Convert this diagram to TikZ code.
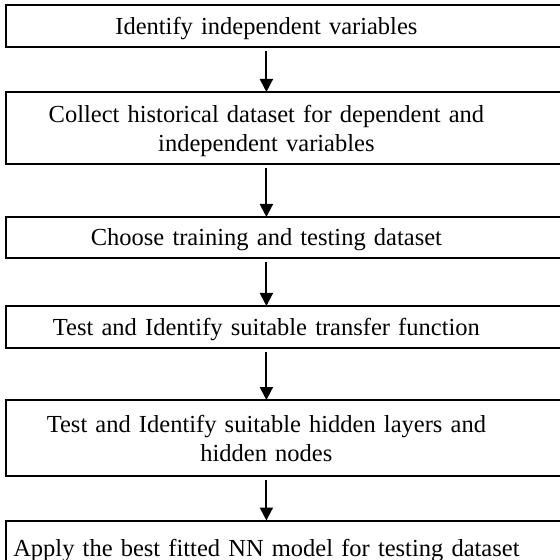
\documentclass[tikz,border=0pt]{standalone}
\usepackage{fontspec}
\setmainfont{Liberation Serif}
\usetikzlibrary{arrows.meta}

\begin{document}
\begin{tikzpicture}[
  x=0.5pt, y=-0.5pt,
  font=\fontsize{12.25pt}{14.5pt}\selectfont,
  every node/.style={inner sep=0pt},
  stepbox/.style={anchor=north west, text width=260pt, align=center, text depth=0pt},
  twoline/.style={stepbox, text depth=14.5pt},
  boxline/.style={line width=1pt},
  arr/.style={-{Triangle[length=6.5pt,width=6.5pt]}, line width=1pt, shorten <=2pt}
]
  \useasboundingbox (0,0) rectangle (559,560);
  \node[stepbox, minimum height=20.25pt] (s1) at (6,5.5)   {Identify independent variables};
  \node[twoline, minimum height=35.5pt]  (s2) at (6,92)    {Collect historical dataset for dependent and\\ independent variables};
  \node[stepbox, minimum height=20pt]    (s3) at (6,217)   {Choose training and testing dataset};
  \node[stepbox, minimum height=20.5pt]  (s4) at (6,306)   {Test and Identify suitable transfer function};
  \node[twoline, minimum height=37.5pt]  (s5) at (6,400)   {Test and Identify suitable hidden layers and\\ hidden nodes};
  \node[stepbox, minimum height=26.5pt]  (s6) at (6,520.5) {Apply the best fitted NN model for testing dataset};
  % boxes run off the right edge
  \foreach \i in {1,...,6}
    \draw[boxline] (s\i.north west) rectangle ([xshift=30pt]s\i.south east);
  \foreach \a/\b in {1/2,2/3,3/4,4/5,5/6}
    \draw[arr] (s\a) -- (s\b);
\end{tikzpicture}
\end{document}
